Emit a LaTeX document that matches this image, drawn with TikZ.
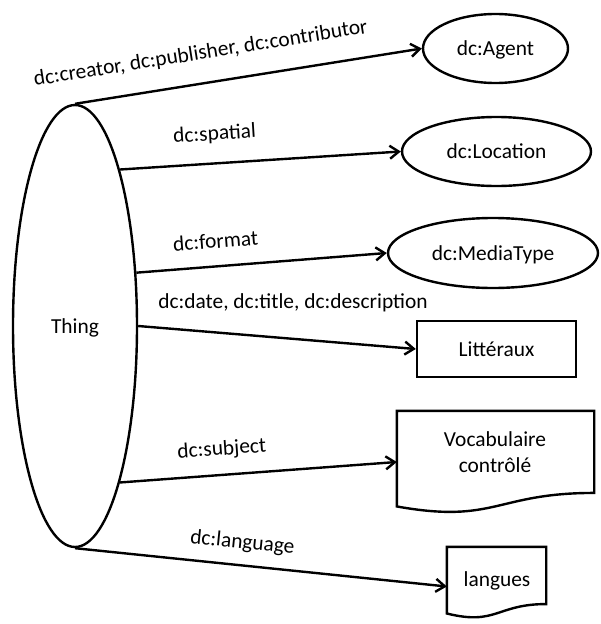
\documentclass[tikz,border=0pt]{standalone}
\usepackage{fontspec}
\setmainfont{Carlito}
\usetikzlibrary{shapes.geometric,arrows.meta,calc}
\begin{document}
\begin{tikzpicture}[x=1pt,y=-1pt,
  every node/.style={font=\fontsize{21.4}{26.5}\selectfont, inner sep=0pt},
  shp/.style={draw, line width=2.4pt, text height=14pt, text depth=0pt},
  oval/.style={shp, ellipse},
  box/.style={shp, rectangle},
  docframe/.style={line width=2.4pt, line join=miter},
  conn/.style={line width=2.4pt, -{Straight Barb[length=9pt,width=13pt]}},
  lbl/.style={text depth=0pt, sloped, above=#1},
  flat/.style={text depth=0pt, above=#1}]
\fill[white] (0,0) rectangle (600,624);
\useasboundingbox (0,0) rectangle (600,624);

\node[oval, minimum width=124pt, minimum height=442pt] (thing) at (75,326) {Thing};
\node[oval, minimum width=145pt, minimum height=69pt] (agent) at (495.5,48.5) {dc:Agent};
\node[oval, minimum width=189pt, minimum height=69pt] (location) at (496.5,151.5) {dc:Location};
\node[oval, minimum width=210pt, minimum height=70pt] (mediatype) at (493,253) {dc:MediaType};
\node[box, minimum width=159pt, minimum height=56pt] (litt) at (496.5,349) {Littéraux};

\node[minimum width=197pt, minimum height=102pt] (vocab) at (495.5,462) {};
\draw[docframe] (vocab.north west) -- (vocab.north east)
  -- ($(vocab.north east)!0.802!(vocab.south east)$)
  .. controls ($(vocab.north)!0.802!(vocab.south)$) and ($(vocab.north)!1.107!(vocab.south)$)
  .. ($(vocab.north west)!0.934!(vocab.south west)$) -- cycle;
\node[align=center] (vocabtext) at (495,452) {Vocabulaire\\contrôlé};

\node[minimum width=99pt, minimum height=71pt] (langues) at (496.5,582.5) {};
\draw[docframe] (langues.north west) -- (langues.north east)
  -- ($(langues.north east)!0.802!(langues.south east)$)
  .. controls ($(langues.north)!0.802!(langues.south)$) and ($(langues.north)!1.107!(langues.south)$)
  .. ($(langues.north west)!0.934!(langues.south west)$) -- cycle;
\node[anchor=base] (languestext) at (497,586) {langues};

\draw[conn] (thing.north) -- node[lbl=22.7pt, pos=0.376] (l1) {dc:creator, dc:publisher, dc:contributor} (agent.west);
\draw[conn] (thing.74) -- node[lbl=22pt, pos=0.344] (l2) {dc:spatial} (location.west);
\draw[conn] (thing.41) -- node[lbl=17pt, pos=0.324] (l3) {dc:format} (mediatype.west);
\draw[conn] (thing.east) -- node[flat=29pt, pos=0.5576] (l4) {dc:date, dc:title, dc:description} (litt.west);
\draw[conn] (thing.-74) -- node[lbl=18.5pt, pos=0.375] (l5) {dc:subject} (vocab.west);
\draw[conn] (thing.south) -- node[lbl=15.5pt, pos=0.444] (l6) {dc:language} ([yshift=-4pt]langues.west);
\end{tikzpicture}
\end{document}
